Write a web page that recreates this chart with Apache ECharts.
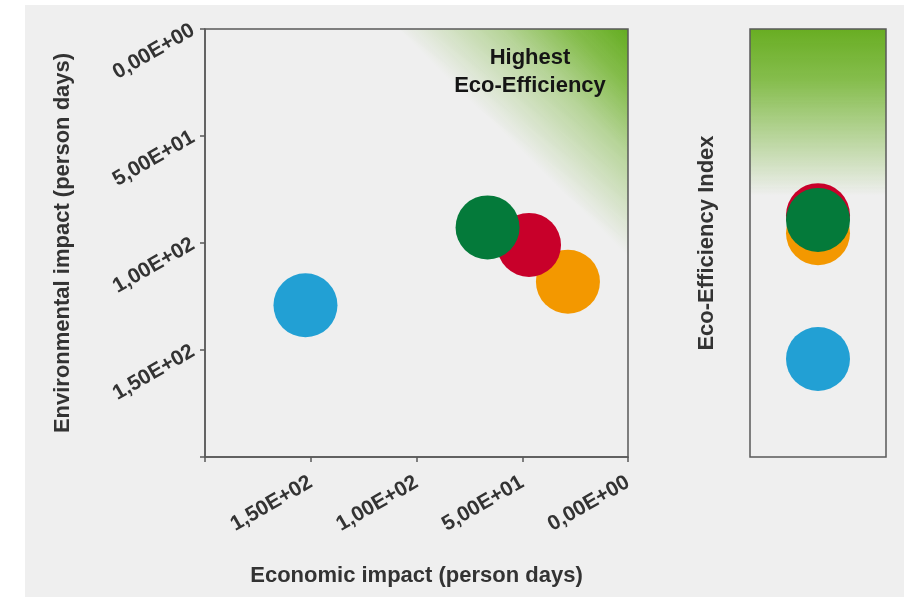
<!DOCTYPE html>
<html><head><meta charset="utf-8">
<script src="https://cdn.jsdelivr.net/npm/echarts@6/dist/echarts.min.js"></script>
<style>
html,body{margin:0;padding:0;background:#fff;}
#wrap{position:relative;width:907px;height:597px;overflow:hidden;}
#bg{position:absolute;left:25px;top:5px;width:879px;height:592px;background:#efefef;}
#chart{position:absolute;left:0;top:0;width:907px;height:597px;}
</style></head><body>
<div id="wrap"><div id="bg"></div><div id="chart"></div></div>
<script>
// Data (draw order: blue, orange, red, green)
const alternatives = ['Alternative 1', 'Alternative 2', 'Alternative 3', 'Alternative 4'];
const economicImpact = [152.5, 28.4, 46.8, 66.4];        // person days
const environmentalImpact = [129.1, 118.1, 100.9, 92.7]; // person days
const ecoEfficiencyIndex = [0.229, 0.523, 0.565, 0.554]; // relative position in index panel
const colors = ['#22a0d4', '#f39800', '#c8002a', '#047a3a'];
const tickValues = [0, 50, 100, 150];
const tickLabels = ['0,00E+00', '5,00E+01', '1,00E+02', '1,50E+02'];

const FONT = '"Liberation Sans", Arial, Helvetica, sans-serif';
const TXT = '#333333';
const LINE = '#5a5a5a';

function fmt(v) {
  const i = tickValues.indexOf(v);
  return i >= 0 ? tickLabels[i] : '';
}

const chart = echarts.init(document.getElementById('chart'), null, {renderer: 'canvas'});

const mainData = alternatives.map((n, i) => ({
  name: n, value: [economicImpact[i], environmentalImpact[i]],
  itemStyle: {color: colors[i], opacity: 1}
}));
const indexData = alternatives.map((n, i) => ({
  name: n, value: [0.5, ecoEfficiencyIndex[i]],
  itemStyle: {color: colors[i], opacity: 1}
}));

const option = {
  backgroundColor: 'transparent',
  animation: false,
  textStyle: {fontFamily: FONT},
  grid: [
    {
      left: 205, top: 29, right: 279, bottom: 140,
      show: true, borderColor: LINE, borderWidth: 1.5,
      backgroundColor: {
        type: 'linear', x: 1, y: 0, x2: 0, y2: 1,
        colorStops: [
          {offset: 0, color: 'rgba(98,171,30,1)'},
          {offset: 0.07, color: 'rgba(106,176,35,0.8)'},
          {offset: 0.15, color: 'rgba(106,176,35,0.42)'},
          {offset: 0.27, color: 'rgba(106,176,35,0)'},
          {offset: 1, color: 'rgba(106,176,35,0)'}
        ]
      }
    },
    {
      left: 750, top: 29, width: 136, bottom: 140,
      show: true, borderColor: LINE, borderWidth: 1.5,
      backgroundColor: {
        type: 'linear', x: 0, y: 0, x2: 0, y2: 1,
        colorStops: [
          {offset: 0, color: 'rgba(104,173,34,1)'},
          {offset: 0.12, color: 'rgba(106,176,35,0.8)'},
          {offset: 0.25, color: 'rgba(106,176,35,0.42)'},
          {offset: 0.39, color: 'rgba(106,176,35,0)'},
          {offset: 1, color: 'rgba(106,176,35,0)'}
        ]
      }
    }
  ],
  xAxis: [
    {
      gridIndex: 0, type: 'value', min: 0, max: 200, interval: 50, inverse: true,
      position: 'bottom',
      name: 'Economic impact (person days)', nameLocation: 'middle', nameGap: 108,
      nameTextStyle: {fontSize: 22, fontWeight: 'bold', color: TXT, fontFamily: FONT},
      axisLine: {show: true, onZero: false, lineStyle: {color: LINE, width: 1.5}},
      axisTick: {show: true, length: 5, lineStyle: {color: LINE, width: 1.5}},
      axisLabel: {rotate: 30, margin: 24, fontSize: 21, fontWeight: 'bold', color: TXT,
        fontFamily: FONT, formatter: fmt},
      splitLine: {show: false}
    },
    {
      gridIndex: 1, type: 'value', min: 0, max: 1, show: false
    }
  ],
  yAxis: [
    {
      gridIndex: 0, type: 'value', min: 0, max: 200, interval: 50, inverse: true,
      position: 'left',
      name: 'Environmental impact (person days)', nameLocation: 'middle', nameGap: 131,
      nameTextStyle: {fontSize: 22, fontWeight: 'bold', color: TXT, fontFamily: FONT},
      axisLine: {show: true, onZero: false, lineStyle: {color: LINE, width: 1.5}},
      axisTick: {show: true, length: 5, lineStyle: {color: LINE, width: 1.5}},
      axisLabel: {rotate: 30, margin: 12, fontSize: 21, fontWeight: 'bold', color: TXT,
        fontFamily: FONT, formatter: fmt},
      splitLine: {show: false}
    },
    {
      gridIndex: 1, type: 'value', min: 0, max: 1,
      name: 'Eco-Efficiency Index', nameLocation: 'middle', nameGap: 32,
      nameTextStyle: {fontSize: 22, fontWeight: 'bold', color: TXT, fontFamily: FONT},
      axisLine: {show: false}, axisTick: {show: false}, axisLabel: {show: false},
      splitLine: {show: false}
    }
  ],
  graphic: [{
    type: 'text', x: 530, y: 44, silent: true,
    style: {
      text: 'Highest\nEco-Efficiency', align: 'center', verticalAlign: 'top', lineHeight: 28,
      font: 'bold 22px ' + FONT, fill: '#151515'
    }
  }],
  series: [
    {
      name: 'Impacts', type: 'scatter', xAxisIndex: 0, yAxisIndex: 0,
      symbolSize: 64, data: mainData, emphasis: {disabled: true}
    },
    {
      name: 'Eco-Efficiency Index', type: 'scatter', xAxisIndex: 1, yAxisIndex: 1,
      symbolSize: 64, data: indexData, emphasis: {disabled: true}
    }
  ]
};
chart.setOption(option);
</script>
</body></html>
